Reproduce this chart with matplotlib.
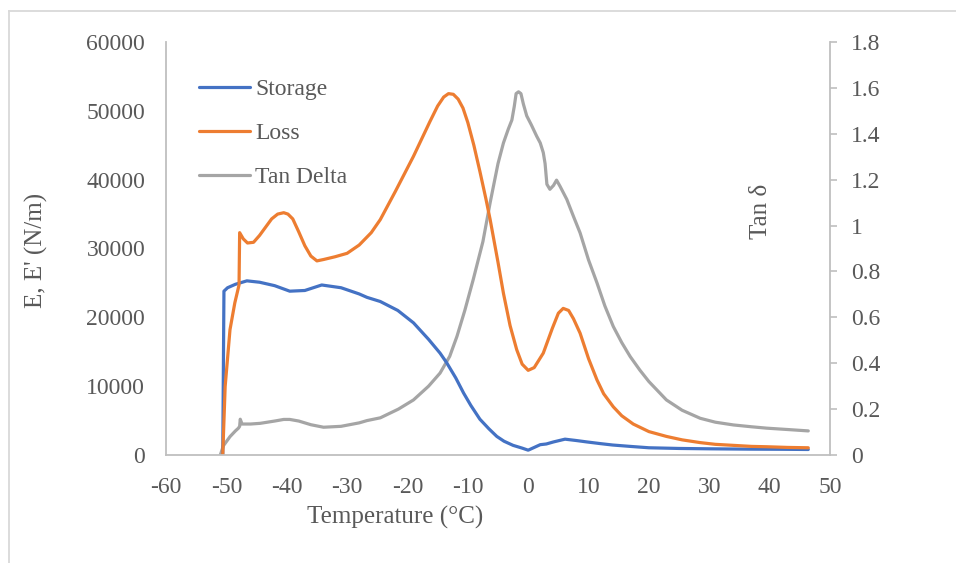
import matplotlib
matplotlib.use("Agg")
import matplotlib.pyplot as plt
from matplotlib.lines import Line2D

plt.rcParams['font.family'] = ['Liberation Serif', 'DejaVu Serif']

# ---- data ----
storage_t = [-50.6, -50.5, -50.4, -49.8, -48.5, -46.6, -44.5, -42, -39.5, -37, -34.2, -31, -28,
             -26.7, -24.5, -21.6, -19, -16.5, -14.6, -13.5, -12, -10.7, -9.5, -8.0, -6.5, -5.2,
             -4, -2.5, -1, 0.0, 1, 2.0, 3, 4.2, 6.1, 8, 9.7, 12, 14, 16.9, 20, 25, 30, 36.8, 42, 46.4]
storage_v = [0, 12000, 23800, 24300, 24800, 25300, 25100, 24600, 23800, 23900, 24700, 24300, 23400,
             22900, 22300, 21000, 19200, 16800, 14800, 13400, 11200, 9000, 7200, 5200, 3800, 2700,
             2000, 1400, 1000, 700, 1100, 1500, 1600, 1900, 2300, 2100, 1900, 1650, 1450, 1250,
             1050, 950, 900, 850, 830, 800]

loss_t = [-50.6, -50.2, -49.4, -48.6, -47.9, -47.8, -47.2, -46.5, -45.5, -44.5, -43.5, -42.5, -41.5,
          -40.5, -39.8, -39, -38, -37, -36, -35, -33.9, -32, -30, -28, -26, -24.5, -22, -19, -16.3,
          -15, -14, -13.2, -12.4, -11.6, -10.8, -10, -9, -8, -7, -6.3, -5, -4.1, -3, -1.9, -1, 0, 1,
          2.5, 4, 5, 5.8, 6.7, 7.5, 8.6, 10, 11.4, 12.5, 14.1, 15.5, 17.4, 20, 22.9, 25.5, 28.5, 31,
          34, 37, 39.5, 43, 46.4]
loss_v = [0, 9950, 18200, 22100, 24700, 32300, 31400, 30800, 30900, 31900, 33100, 34300, 35000,
          35200, 35000, 34300, 32400, 30400, 28900, 28200, 28400, 28800, 29300, 30500, 32300, 34200,
          38300, 43400, 48400, 50700, 52000, 52500, 52400, 51700, 50400, 48300, 45000, 41200, 37200,
          34200, 28000, 23500, 18800, 15300, 13200, 12300, 12700, 14800, 18400, 20600, 21300, 21000,
          19800, 17700, 14000, 10900, 8900, 7000, 5700, 4500, 3400, 2700, 2200, 1800, 1550, 1400,
          1250, 1200, 1100, 1050]

tan_t = [-51.0, -50.5, -49.4, -48.5, -48.0, -47.8, -47.7, -47.4, -46, -44.4, -42, -40.5, -39.5, -38,
         -36, -33.9, -31, -28, -26.7, -24.5, -21.5, -19, -16.5, -14.6, -13, -11.8, -10.5, -9.1, -7.5,
         -6.3, -5, -4.1, -3.3, -2.7, -2.3, -2.0, -1.6, -1.2, -0.8, -0.24, 0.5, 1.4, 2.0, 2.5, 2.8,
         3.1, 3.6, 4.2, 4.7, 5.3, 6.4, 7.5, 8.6, 10, 11.4, 12.7, 14.1, 15.5, 16.9, 18.5, 20, 22.9,
         25.5, 28.5, 31, 34, 37, 39.5, 43, 46.4]
tan_v = [0.0, 0.04, 0.08, 0.105, 0.117, 0.125, 0.156, 0.135, 0.135, 0.138, 0.148, 0.155, 0.155, 0.148,
         0.132, 0.121, 0.125, 0.140, 0.150, 0.162, 0.200, 0.240, 0.300, 0.357, 0.43, 0.517, 0.63,
         0.765, 0.93, 1.10, 1.27, 1.36, 1.42, 1.46, 1.52, 1.575, 1.583, 1.575, 1.53, 1.478, 1.44,
         1.39, 1.36, 1.318, 1.27, 1.18, 1.158, 1.175, 1.198, 1.17, 1.114, 1.04, 0.968, 0.85, 0.75,
         0.65, 0.56, 0.49, 0.429, 0.37, 0.32, 0.240, 0.195, 0.160, 0.143, 0.131, 0.123, 0.117,
         0.111, 0.105]

x_ticks = [-60, -50, -40, -30, -20, -10, 0, 10, 20, 30, 40, 50]
y_ticks = [0, 10000, 20000, 30000, 40000, 50000, 60000]
y2_ticks = [0, 0.2, 0.4, 0.6, 0.8, 1, 1.2, 1.4, 1.6, 1.8]
y2_labels = ['0', '0.2', '0.4', '0.6', '0.8', '1', '1.2', '1.4', '1.6', '1.8']

# ---- styling ----
BLUE, ORANGE, GRAY = '#4472C4', '#ED7D31', '#A5A5A5'
TXT = '#595959'
AXC = '#BFBFBF'
FS = 17
FSL = 18

fig = plt.figure(figsize=(9.56, 5.63), dpi=100)
W, H = 956, 563
ax = fig.add_axes([166 / W, 1 - 455 / H, (830 - 166) / W, (455 - 42) / H])
ax2 = ax.twinx()

lw = 2.3
l1, = ax.plot(storage_t, storage_v, color=BLUE, lw=lw, solid_capstyle='round', solid_joinstyle='round', label='Storage')
l2, = ax.plot(loss_t, loss_v, color=ORANGE, lw=lw, solid_capstyle='round', solid_joinstyle='round', label='Loss')
l3, = ax2.plot(tan_t, tan_v, color=GRAY, lw=lw, solid_capstyle='round', solid_joinstyle='round', label='Tan Delta')
ax.set_zorder(ax2.get_zorder() + 1)
ax.patch.set_visible(False)

ax.set_xlim(-60, 50)
ax.set_ylim(0, 60000)
ax2.set_ylim(0, 1.8)
ax.set_xticks(x_ticks)
ax.set_xticklabels([str(v) for v in x_ticks])
ax.set_yticks(y_ticks)
ax.set_yticklabels([str(v) for v in y_ticks])
ax2.set_yticks(y2_ticks)
ax2.set_yticklabels(y2_labels)

for a in (ax, ax2):
    for s in a.spines.values():
        s.set_visible(False)
ax.spines['left'].set_visible(True)
ax.spines['bottom'].set_visible(True)
ax2.spines['right'].set_visible(True)
for s in ('left', 'bottom'):
    ax.spines[s].set_color(AXC)
    ax.spines[s].set_linewidth(1.3)
ax2.spines['right'].set_color(AXC)
ax2.spines['right'].set_linewidth(1.3)

ax.tick_params(axis='x', length=0, pad=16, labelsize=FS, labelcolor=TXT)
ax.tick_params(axis='y', length=0, pad=15, labelsize=FS, labelcolor=TXT)
ax2.tick_params(axis='y', direction='out', length=5, width=1.2, color=AXC, pad=10,
                labelsize=FS, labelcolor=TXT)

fig.text(395 / W, 1 - 517 / H, 'Temperature (°C)', ha='center', va='center', fontsize=FSL, color=TXT)
fig.text(36 / W, 1 - 250 / H, "E, E' (N/m)", ha='center', va='center', rotation=90, fontsize=FSL, color=TXT)
fig.text(761 / W, 1 - 211 / H, 'Tan δ', ha='center', va='center', rotation=90, fontsize=FSL, color=TXT)

leg = ax.legend(handles=[l1, l2, l3], loc='upper left', bbox_to_anchor=(24 / 664, 1 - 27 / 413),
                frameon=False, fontsize=FS, labelspacing=0.95, handlelength=2.15, handletextpad=0.2,
                labelcolor=TXT, borderaxespad=0)

# figure border (left and top visible)
fig.add_artist(Line2D([9 / W, 9 / W], [0, 1 - 11 / H], transform=fig.transFigure, color='#D9D9D9', lw=1.3))
fig.add_artist(Line2D([9 / W, 1], [1 - 11 / H, 1 - 11 / H], transform=fig.transFigure, color='#D9D9D9', lw=1.3))

fig.savefig('out.png', dpi=100)
